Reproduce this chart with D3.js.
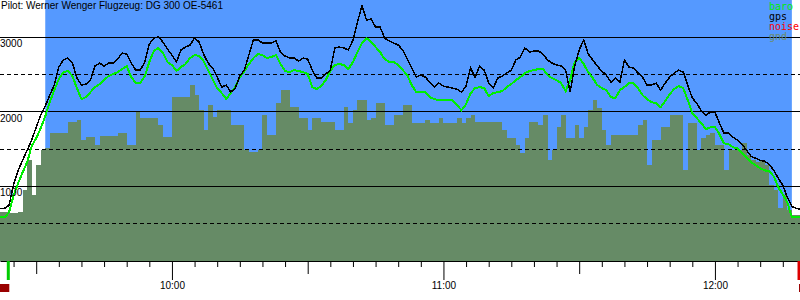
<!DOCTYPE html>
<html>
<head>
<meta charset="utf-8">
<script src="https://cdn.jsdelivr.net/npm/d3@7"></script>
<style>
  body { margin: 0; background: #fff; }
  #chart { width: 800px; height: 300px; }
</style>
</head>
<body>
<div id="chart"></div>
<script>
// Flight log: one sample per minute, first sample at 09:22
const title = "Pilot: Werner Wenger Flugzeug: DG 300 OE-5461";
const sampleStart = "09:22:00";
const xDomain = ["09:22:00", "12:18:48"];
const flightWindow = ["09:32:00", "12:17:00"];
const takeoff = "09:23:50";
const landing = "12:18:35";

// altitudes in metres
const gps = [706,706,746,1028,1216,1351,1485,1620,1794,1956,
  2077,2224,2359,2601,2695,2722,2654,2453,2359,2372,
  2426,2614,2654,2614,2654,2654,2708,2789,2775,2654,
  2560,2560,2668,2910,2990,3004,2937,2843,2762,2668,
  2829,2869,2896,2990,2937,2775,2654,2587,2466,2332,
  2359,2265,2318,2480,2560,2762,2964,2964,2923,2923,
  2923,2950,2802,2749,2722,2722,2681,2722,2708,2560,
  2453,2453,2507,2560,2856,2869,2856,2829,2964,3205,
  3420,3232,3246,3138,3138,2990,2950,2923,2896,2829,
  2708,2587,2466,2493,2466,2399,2332,2386,2345,2332,
  2318,2305,2265,2345,2587,2466,2614,2560,2386,2318,
  2453,2480,2520,2560,2695,2735,2856,2802,2816,2816,
  2775,2695,2654,2628,2614,2560,2265,2614,2829,2964,
  2775,2695,2614,2547,2493,2399,2453,2399,2695,2601,
  2587,2520,2466,2359,2359,2386,2292,2386,2466,2520,
  2560,2533,2359,2184,2117,2009,1956,1996,1996,1848,
  1714,1714,1660,1620,1566,1485,1404,1378,1351,1337,
  1297,1216,1109,1015,853,732,706,692];

const baro = [585,585,652,880,1042,1189,1324,1539,1646,1781,
  1942,2130,2292,2439,2533,2547,2480,2318,2171,2197,
  2265,2332,2372,2426,2480,2507,2533,2574,2614,2466,
  2386,2386,2480,2668,2816,2856,2789,2668,2628,2547,
  2601,2641,2722,2762,2749,2681,2560,2439,2318,2251,
  2171,2251,2332,2466,2547,2641,2722,2775,2762,2722,
  2735,2762,2641,2547,2533,2560,2547,2533,2507,2332,
  2305,2345,2426,2547,2628,2641,2628,2574,2668,2802,
  2923,2990,2937,2869,2802,2708,2668,2668,2628,2560,
  2493,2359,2265,2265,2265,2197,2171,2157,2157,2157,
  2157,2090,2023,2103,2251,2318,2332,2318,2211,2251,
  2265,2278,2332,2372,2426,2466,2520,2547,2560,2574,
  2574,2493,2453,2426,2386,2278,2426,2668,2722,2641,
  2533,2453,2359,2318,2292,2197,2184,2292,2332,2386,
  2386,2318,2224,2171,2130,2117,2063,2144,2238,2305,
  2345,2318,2157,1982,1915,1848,1767,1794,1794,1700,
  1579,1566,1525,1512,1445,1391,1324,1284,1243,1216,
  1203,1136,988,894,786,585,585,585];

const gnd = [652,652,638,638,652,948,1351,880,1284,1485,
  1512,1714,1714,1714,1714,1861,1861,1888,1620,1660,
  1660,1552,1673,1673,1673,1673,1714,1714,1552,1552,
  1996,1915,1915,1915,1915,1821,1660,1660,2197,2197,
  2197,2197,2359,2224,2023,1754,2090,1929,2023,2023,
  2023,1821,1821,1821,1485,1458,1458,1485,1956,1687,
  1687,2117,2292,2292,2063,2063,1915,1915,1754,1915,
  1915,1861,1861,1861,1754,1754,2063,1848,2023,2157,
  2157,1888,1915,2117,2117,1821,1821,1956,1956,2090,
  2090,1848,1848,1848,1888,1848,1848,1915,1848,1848,
  1848,1915,1848,1915,1956,1861,1861,1861,1861,1861,
  1861,1754,1646,1646,1552,1445,1646,1861,1861,1821,
  1956,1351,1485,1794,1956,1646,1646,1821,1646,1794,
  2023,2157,2050,1754,1552,1687,1687,1687,1687,1687,
  1687,1821,1888,1284,1620,1620,1794,1794,1956,1956,
  1956,1216,1848,1848,1485,1646,1687,1714,1552,1552,
  1216,1485,1485,1485,1579,1418,1351,1324,1351,1284,
  1015,948,706,880,679,612,612,612];

const solidLevels = [1000, 2000, 3000];
const dashedLevels = [500, 1500, 2500];
const legendItems = ["baro", "gps", "noise", "gnd"];
const legendColors = ["#00ee00", "#000000", "#ff0000", "#6b8c6b"];

const W = 800, H = 300;
const mono = "'DejaVu Sans Mono', monospace";
const sans = "'Liberation Sans', Arial, sans-serif";

const parse = d3.timeParse("%H:%M:%S");
const t0 = parse(sampleStart);
const times = gps.map((d, i) => d3.timeMinute.offset(t0, i));

const x = d3.scaleTime().domain(xDomain.map(parse)).range([0, W]);
const y = d3.scaleLinear().domain([0, 3500]).range([261, 0]);

const svg = d3.select("#chart")
  .append("svg")
    .attr("width", W)
    .attr("height", H);

// sky during the flight
const f0 = x(parse(flightWindow[0])), f1 = x(parse(flightWindow[1]));
svg.append("rect")
    .attr("x", f0)
    .attr("y", 0)
    .attr("width", f1 - f0)
    .attr("height", y(0))
    .attr("fill", "#5599ff");

// terrain below
const gndArea = d3.area()
    .x((d, i) => x(times[i]))
    .y0(y(0))
    .y1(d => y(d))
    .curve(d3.curveStepAfter);
svg.append("path")
    .datum(gnd)
    .attr("d", gndArea)
    .attr("fill", "#668b66")
    .attr("shape-rendering", "crispEdges");

// horizontal reference lines
svg.append("g")
  .selectAll("line")
  .data(solidLevels.concat(dashedLevels))
  .join("line")
    .attr("x1", 0)
    .attr("x2", W)
    .attr("y1", d => Math.floor(y(d)) + 0.5)
    .attr("y2", d => Math.floor(y(d)) + 0.5)
    .attr("stroke", "#000")
    .attr("stroke-width", 1)
    .attr("stroke-dasharray", d => dashedLevels.includes(d) ? "4,3" : null)
    .attr("shape-rendering", "crispEdges");

// altitude lines, drawn without smoothing like the logger plot
const line = d3.line().x((d, i) => x(times[i])).y(d => y(d));
svg.append("path")
    .datum(baro)
    .attr("d", line)
    .attr("fill", "none")
    .attr("stroke", legendColors[0])
    .attr("stroke-width", 2)
    .attr("shape-rendering", "crispEdges");
svg.append("path")
    .datum(gps)
    .attr("d", line)
    .attr("fill", "none")
    .attr("stroke", legendColors[1])
    .attr("stroke-width", 1.5)
    .attr("shape-rendering", "crispEdges");

// y labels sit just under their line
svg.append("g")
  .selectAll("text")
  .data(solidLevels)
  .join("text")
    .attr("x", 0)
    .attr("y", d => y(d) + 10)
    .style("font-family", sans)
    .style("font-size", "10px")
    .text(d => d);

// title
svg.append("text")
    .attr("x", 1)
    .attr("y", 9)
    .style("font-family", sans)
    .style("font-size", "10px")
    .text(title);

// legend
svg.append("g")
  .selectAll("text")
  .data(legendItems)
  .join("text")
    .attr("x", 769)
    .attr("y", (d, i) => 10 + i * 10)
    .style("font-family", mono)
    .style("font-size", "10px")
    .style("fill", (d, i) => legendColors[i])
    .text(d => d);

// time axis: 5 min ticks, longer at half hours and hours
const xAxis = d3.axisBottom(x)
    .ticks(d3.timeMinute.every(5))
    .tickSizeOuter(0)
    .tickFormat(d => d.getMinutes() === 0 ? d3.timeFormat("%H:%M")(d) : "");
const gx = svg.append("g")
    .attr("transform", `translate(0,${y(0)})`)
    .attr("font-family", mono)
    .attr("font-size", 10)
    .call(xAxis);
gx.selectAll(".tick line")
    .attr("y2", d => d.getMinutes() === 0 ? 19 : d.getMinutes() === 30 ? 13 : 6);
gx.selectAll(".tick text")
    .attr("y", 28)
    .attr("dy", null)
    .attr("fill", "#000");
gx.select(".domain").attr("stroke", "#000");

// takeoff / landing markers
const xt = x(parse(takeoff)), xl = x(parse(landing));
svg.append("rect").attr("x", xt - 1.5).attr("y", y(0)).attr("width", 3).attr("height", 19).attr("fill", "#00cc00");
svg.append("rect").attr("x", xl - 1.5).attr("y", y(0)).attr("width", 3).attr("height", 19).attr("fill", "#dd0000");
svg.append("rect").attr("x", 0).attr("y", 284).attr("width", xt + 1).attr("height", 8).attr("fill", "#990000");
svg.append("rect").attr("x", xl).attr("y", 284).attr("width", W - xl).attr("height", 8).attr("fill", "#990000");
</script>
</body>
</html>
